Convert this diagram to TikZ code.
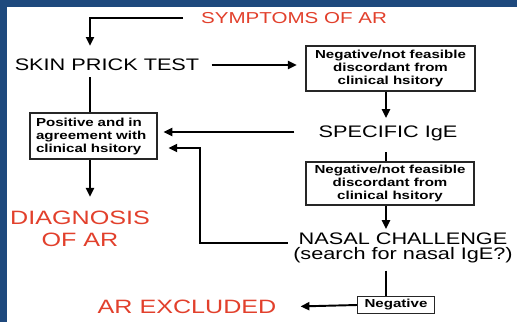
\documentclass[tikz,border=0pt]{standalone}
\usepackage{fontspec}
\setmainfont{Liberation Sans}[FakeStretch=1.3]
\usetikzlibrary{arrows.meta,positioning}
\definecolor{frameblue}{RGB}{30,73,125}
\definecolor{arred}{RGB}{226,64,44}
\begin{document}
\begin{tikzpicture}[x=0.02cm, y=-0.02cm,
  stepbox/.style={draw=black!85, line width=0.6pt, fill=white, align=center, inner sep=1pt, font=\bfseries\fontsize{6.6}{7.4}\selectfont},
  tag/.style={inner sep=0pt, text depth=0pt, font=\fontsize{9.5}{9}\selectfont},
  outcome/.style={inner sep=0pt, text=arred, align=center, font=\fontsize{11}{12.5}\selectfont},
  arrow/.style={-{Triangle[length=5pt,width=4.6pt]}, line width=1.1pt},
  link/.style={line width=1.1pt}
]
  \fill[white] (0,0) rectangle (517,322);
  \fill[frameblue] (0,0) rectangle (517,7);
  \fill[frameblue] (0,0) rectangle (7,322);

  \coordinate (lcol) at (90,0);
  \coordinate (rcol) at (386,0);
  \coordinate (mcol) at (200,148);

  \node[tag, text=arred, font=\fontsize{9}{9}\selectfont] (symp) at (294,18) {SYMPTOMS OF AR};
  \node[tag] (spt)  at (107,65) {SKIN PRICK TEST};
  \node[stepbox, minimum width=3.38cm, minimum height=0.9cm] (neg1) at (390.5,68.5) {Negative/not feasible\\discordant from\\clinical hsitory};
  \node[tag] (sige) at (388,132) {SPECIFIC IgE};
  \node[stepbox, align=left, minimum width=2.54cm, minimum height=0.92cm, text width=2.3cm] (pos) at (93.5,136) {Positive and in\\agreement with\\clinical hsitory};
  \node[outcome] (diag) at (80,229) {DIAGNOSIS\\OF AR};
  \node[stepbox, minimum width=3.36cm, minimum height=0.86cm] (neg2) at (390,183.5) {Negative/not feasible\\discordant from\\clinical hsitory};
  \node[inner sep=0pt, align=center, font=\fontsize{9.5}{8.6}\selectfont] (nasal) at (403,248) {NASAL CHALLENGE\\(search for nasal IgE?)};
  \node[stepbox, minimum width=1.54cm, minimum height=0.34cm] (negb) at (396,305) {Negative};
  \node[outcome] (arex) at (187,307) {AR EXCLUDED};

  \draw[arrow, shorten <=10pt, shorten >=7.4pt] (symp.west) -| (spt.north -| lcol);
  \draw[arrow, shorten <=6.8pt, shorten >=5pt] (spt.east) -- (spt.east -| neg1.west);
  \draw[arrow, shorten >=4.5pt] (neg1.south -| rcol) -- (sige.north -| rcol);
  \draw[arrow, shorten <=13.6pt, shorten >=3.4pt] (sige.west) -- (sige.west -| pos.east);
  \draw[link, shorten <=3.4pt] (spt.south -| lcol) -- (pos.north -| lcol);
  \draw[arrow, shorten >=8pt] (pos.south -| lcol) -- (diag.north -| lcol);
  \draw[link, shorten <=8pt] (sige.south -| rcol) -- (neg2.north -| rcol);
  \draw[arrow, shorten >=2pt] (neg2.south -| rcol) -- (nasal.north -| rcol);
  \draw[arrow, shorten <=3pt, shorten >=6.2pt] ([yshift=2.8pt]nasal.west) -| (mcol) -- (mcol -| pos.east);
  \draw[link, shorten <=4pt] (nasal.south -| rcol) -- (negb.north -| rcol);
  \draw[arrow, shorten >=13.6pt] (negb.west) -- (arex.east);
\end{tikzpicture}
\end{document}
